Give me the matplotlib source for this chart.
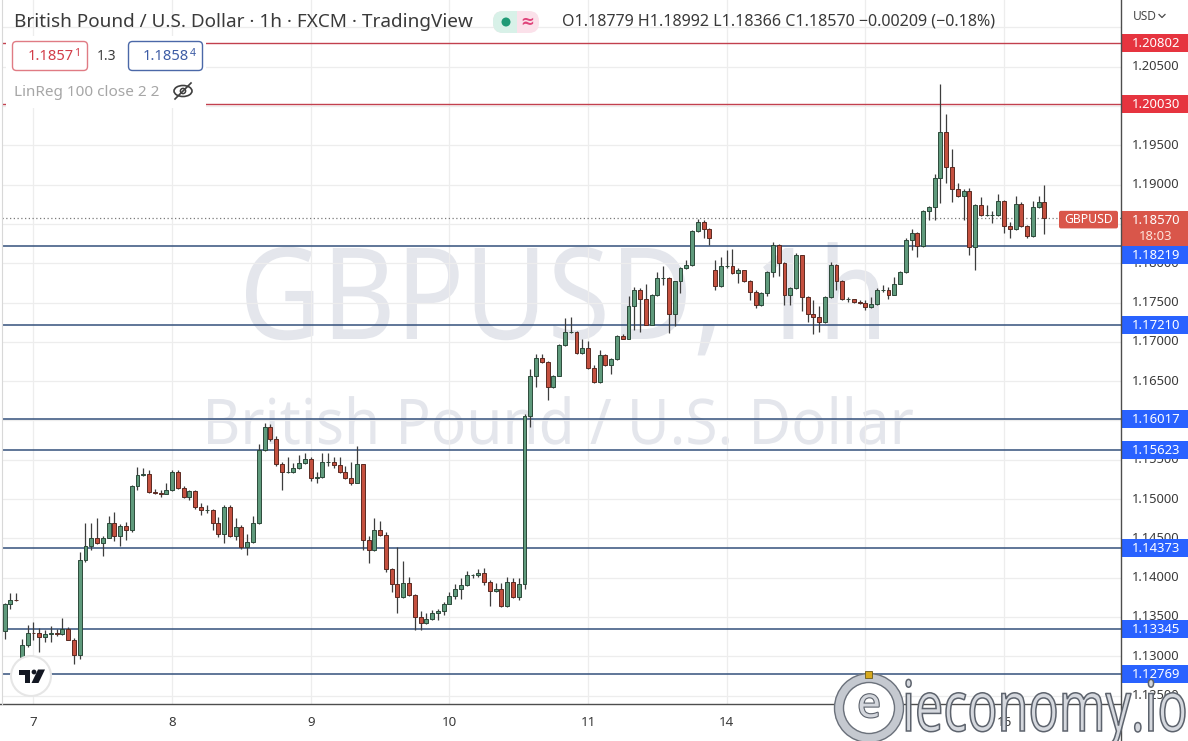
import matplotlib
matplotlib.use('Agg')
import matplotlib.pyplot as plt
import matplotlib.transforms as mtransforms
import matplotlib.patheffects as pe
from matplotlib.patches import Rectangle, FancyBboxPatch, Circle, PathPatch, Polygon, Ellipse
from matplotlib.textpath import TextPath
from matplotlib.font_manager import FontProperties
import numpy as np

plt.rcParams['font.family'] = ['Noto Sans', 'DejaVu Sans']

# GBPUSD 1h candles (Nov 4 late -> Nov 16 07:00)
opens = [
    1.1332, 1.1366, 1.1372, 1.1299, 1.1314, 1.1330, 1.1329, 1.1324, 1.1328, 1.1329,
    1.1328, 1.1334, 1.1321, 1.1301, 1.1422, 1.1440, 1.1451, 1.1444, 1.1451, 1.1469,
    1.1453, 1.1466, 1.1460, 1.1517, 1.1531, 1.1532, 1.1509, 1.1508, 1.1507, 1.1511,
    1.1534, 1.1514, 1.1502, 1.1510, 1.1490, 1.1486, 1.1486, 1.1469, 1.1455, 1.1490,
    1.1453, 1.1464, 1.1439, 1.1445, 1.1469, 1.1563, 1.1592, 1.1576, 1.1544, 1.1534,
    1.1535, 1.1539, 1.1546, 1.1551, 1.1527, 1.1528, 1.1547, 1.1547, 1.1543, 1.1534,
    1.1527, 1.1521, 1.1544, 1.1448, 1.1435, 1.1461, 1.1454, 1.1411, 1.1392, 1.1375,
    1.1393, 1.1378, 1.1350, 1.1342, 1.1347, 1.1355, 1.1357, 1.1367, 1.1376, 1.1386,
    1.1391, 1.1403, 1.1403, 1.1406, 1.1395, 1.1383, 1.1386, 1.1364, 1.1395, 1.1375,
    1.1392, 1.1606, 1.1657, 1.1679, 1.1674, 1.1643, 1.1657, 1.1696, 1.1712, 1.1712,
    1.1686, 1.1692, 1.1667, 1.1649, 1.1683, 1.1670, 1.1678, 1.1708, 1.1704, 1.1745,
    1.1766, 1.1754, 1.1722, 1.1760, 1.1781, 1.1781, 1.1735, 1.1777, 1.1794, 1.1798,
    1.1841, 1.1852, 1.1844, 1.1791, 1.1771, 1.1796, 1.1796, 1.1787, 1.1791, 1.1777,
    1.1764, 1.1747, 1.1762, 1.1789, 1.1823, 1.1800, 1.1760, 1.1768, 1.1810, 1.1757,
    1.1735, 1.1731, 1.1725, 1.1757, 1.1798, 1.1778, 1.1754, 1.1754, 1.1751, 1.1750,
    1.1744, 1.1748, 1.1766, 1.1766, 1.1760, 1.1774, 1.1789, 1.1830, 1.1838, 1.1822,
    1.1866, 1.1871, 1.1909, 1.1967, 1.1922, 1.1895, 1.1886, 1.1892, 1.1821, 1.1874,
    1.1861, 1.1861, 1.1861, 1.1879, 1.1847, 1.1843, 1.1875, 1.1847, 1.1835, 1.1871,
    1.18779,
]
highs = [
    1.1368, 1.1380, 1.1380, 1.1322, 1.1340, 1.1344, 1.1336, 1.1333, 1.1338, 1.1335,
    1.1349, 1.1337, 1.1323, 1.1433, 1.1470, 1.1470, 1.1476, 1.1453, 1.1478, 1.1484,
    1.1468, 1.1471, 1.1518, 1.1541, 1.1540, 1.1537, 1.1513, 1.1511, 1.1521, 1.1537,
    1.1537, 1.1517, 1.1511, 1.1511, 1.1495, 1.1492, 1.1487, 1.1477, 1.1492, 1.1492,
    1.1476, 1.1467, 1.1455, 1.1478, 1.1570, 1.1597, 1.1595, 1.1580, 1.1547, 1.1554,
    1.1546, 1.1556, 1.1558, 1.1553, 1.1535, 1.1559, 1.1558, 1.1554, 1.1554, 1.1542,
    1.1547, 1.1567, 1.1545, 1.1453, 1.1476, 1.1472, 1.1458, 1.1412, 1.1439, 1.1421,
    1.1401, 1.1379, 1.1357, 1.1355, 1.1359, 1.1360, 1.1369, 1.1382, 1.1392, 1.1399,
    1.1409, 1.1405, 1.1411, 1.1412, 1.1397, 1.1393, 1.1393, 1.1401, 1.1400, 1.1400,
    1.1608, 1.1666, 1.1685, 1.1684, 1.1675, 1.1658, 1.1697, 1.1730, 1.1731, 1.1714,
    1.1703, 1.1701, 1.1670, 1.1690, 1.1684, 1.1680, 1.1709, 1.1710, 1.1758, 1.1770,
    1.1769, 1.1774, 1.1761, 1.1789, 1.1796, 1.1783, 1.1778, 1.1795, 1.1804, 1.1842,
    1.1856, 1.1855, 1.1845, 1.1804, 1.1808, 1.1817, 1.1818, 1.1794, 1.1792, 1.1779,
    1.1766, 1.1763, 1.1790, 1.1827, 1.1824, 1.1802, 1.1770, 1.1813, 1.1811, 1.1758,
    1.1753, 1.1745, 1.1758, 1.1802, 1.1799, 1.1779, 1.1757, 1.1755, 1.1753, 1.1753,
    1.1757, 1.1768, 1.1772, 1.1770, 1.1783, 1.1790, 1.1832, 1.1844, 1.1840, 1.1868,
    1.1873, 1.1913, 1.2028, 1.1990, 1.1945, 1.1902, 1.1894, 1.1896, 1.1875, 1.1884,
    1.1874, 1.1866, 1.1888, 1.1880, 1.1852, 1.1885, 1.1878, 1.1849, 1.1879, 1.1885,
    1.18992,
]
lows = [
    1.1322, 1.1360, 1.1370, 1.1296, 1.1312, 1.1321, 1.1305, 1.1318, 1.1318, 1.1326,
    1.1327, 1.1320, 1.1290, 1.1296, 1.1420, 1.1435, 1.1443, 1.1427, 1.1450, 1.1446,
    1.1440, 1.1448, 1.1458, 1.1511, 1.1529, 1.1508, 1.1506, 1.1502, 1.1506, 1.1510,
    1.1513, 1.1501, 1.1499, 1.1487, 1.1480, 1.1482, 1.1461, 1.1452, 1.1444, 1.1452,
    1.1448, 1.1437, 1.1429, 1.1444, 1.1468, 1.1561, 1.1574, 1.1542, 1.1511, 1.1533,
    1.1533, 1.1538, 1.1545, 1.1523, 1.1521, 1.1527, 1.1542, 1.1540, 1.1533, 1.1526,
    1.1518, 1.1520, 1.1435, 1.1418, 1.1434, 1.1453, 1.1407, 1.1382, 1.1355, 1.1374,
    1.1376, 1.1333, 1.1333, 1.1341, 1.1346, 1.1346, 1.1352, 1.1366, 1.1373, 1.1373,
    1.1389, 1.1400, 1.1401, 1.1391, 1.1364, 1.1382, 1.1363, 1.1363, 1.1374, 1.1372,
    1.1386, 1.1592, 1.1643, 1.1673, 1.1626, 1.1641, 1.1656, 1.1695, 1.1711, 1.1685,
    1.1685, 1.1666, 1.1647, 1.1648, 1.1669, 1.1659, 1.1677, 1.1703, 1.1703, 1.1715,
    1.1712, 1.1721, 1.1721, 1.1758, 1.1772, 1.1711, 1.1720, 1.1762, 1.1793, 1.1796,
    1.1840, 1.1832, 1.1823, 1.1766, 1.1770, 1.1794, 1.1786, 1.1775, 1.1776, 1.1753,
    1.1743, 1.1746, 1.1758, 1.1783, 1.1784, 1.1747, 1.1747, 1.1767, 1.1739, 1.1725,
    1.1710, 1.1712, 1.1724, 1.1756, 1.1766, 1.1753, 1.1751, 1.1749, 1.1748, 1.1741,
    1.1743, 1.1747, 1.1763, 1.1754, 1.1759, 1.1773, 1.1788, 1.1817, 1.1808, 1.1821,
    1.1855, 1.1855, 1.1876, 1.1902, 1.1878, 1.1884, 1.1855, 1.1810, 1.1791, 1.1860,
    1.1860, 1.1851, 1.1860, 1.1838, 1.1832, 1.1842, 1.1846, 1.1832, 1.1834, 1.1870,
    1.18366,
]
closes = [
    1.1366, 1.1372, 1.1371, 1.1314, 1.1330, 1.1329, 1.1324, 1.1328, 1.1329, 1.1328,
    1.1334, 1.1321, 1.1301, 1.1422, 1.1440, 1.1451, 1.1444, 1.1451, 1.1469, 1.1453,
    1.1466, 1.1460, 1.1517, 1.1531, 1.1532, 1.1509, 1.1508, 1.1507, 1.1511, 1.1534,
    1.1514, 1.1502, 1.1510, 1.1490, 1.1486, 1.1486, 1.1469, 1.1455, 1.1490, 1.1453,
    1.1464, 1.1439, 1.1445, 1.1469, 1.1563, 1.1592, 1.1576, 1.1544, 1.1534, 1.1535,
    1.1539, 1.1546, 1.1551, 1.1527, 1.1528, 1.1547, 1.1547, 1.1543, 1.1534, 1.1527,
    1.1521, 1.1544, 1.1448, 1.1435, 1.1461, 1.1454, 1.1411, 1.1392, 1.1375, 1.1393,
    1.1378, 1.1350, 1.1342, 1.1347, 1.1355, 1.1357, 1.1367, 1.1376, 1.1386, 1.1391,
    1.1403, 1.1403, 1.1406, 1.1395, 1.1383, 1.1386, 1.1364, 1.1395, 1.1375, 1.1392,
    1.1606, 1.1657, 1.1679, 1.1674, 1.1643, 1.1657, 1.1696, 1.1712, 1.1712, 1.1686,
    1.1692, 1.1667, 1.1649, 1.1683, 1.1670, 1.1678, 1.1708, 1.1704, 1.1745, 1.1766,
    1.1754, 1.1722, 1.1760, 1.1781, 1.1781, 1.1735, 1.1777, 1.1794, 1.1798, 1.1841,
    1.1852, 1.1844, 1.1832, 1.1771, 1.1796, 1.1796, 1.1787, 1.1791, 1.1777, 1.1764,
    1.1747, 1.1762, 1.1789, 1.1823, 1.1800, 1.1760, 1.1768, 1.1810, 1.1757, 1.1735,
    1.1731, 1.1725, 1.1757, 1.1798, 1.1778, 1.1754, 1.1754, 1.1751, 1.1750, 1.1744,
    1.1748, 1.1766, 1.1766, 1.1760, 1.1774, 1.1789, 1.1830, 1.1838, 1.1822, 1.1866,
    1.1871, 1.1909, 1.1967, 1.1922, 1.1895, 1.1886, 1.1892, 1.1821, 1.1874, 1.1861,
    1.1861, 1.1861, 1.1879, 1.1847, 1.1843, 1.1875, 1.1847, 1.1835, 1.1871, 1.1878,
    1.18570,
]

# bar index of the first hourly bar of each day (the "15" label sits under the logo)
day_bars = [5, 29, 53, 77, 101, 125, 149, 173]
day_labels = ['7', '8', '9', '10', '11', '14', '', '16']

price_ticks = [1.125, 1.130, 1.135, 1.140, 1.145, 1.150, 1.155, 1.160, 1.165,
               1.170, 1.175, 1.180, 1.185, 1.190, 1.195, 1.200, 1.205, 1.210]
resistance = [1.20802, 1.20030]
support = [1.18219, 1.17210, 1.16017, 1.15623, 1.14373, 1.13345, 1.12769]
last_price = 1.18570

GREEN = '#5f9a7c'
RED = '#c4503f'
W, H = 1188, 741
YMIN, YMAX = 1.12392, 1.21349

fig = plt.figure(figsize=(W / 100, H / 100), dpi=100)
fig.patch.set_facecolor('white')

back = fig.add_axes([0, 0, 1, 1], zorder=0)
back.set_xlim(0, W)
back.set_ylim(H, 0)
back.axis('off')

ax = fig.add_axes([2 / W, 1 - 704 / H, 1118.7 / W, 704 / H], zorder=1)
ax.patch.set_visible(False)
for s in ax.spines.values():
    s.set_visible(False)
ax.set_xticks([])
ax.set_yticks([])

front = fig.add_axes([0, 0, 1, 1], zorder=2)
front.set_xlim(0, W)
front.set_ylim(H, 0)
front.axis('off')

ppx = (YMAX - YMIN) / 704  # price per pixel
ty = mtransforms.blended_transform_factory(front.transData, ax.transData)
tx = mtransforms.blended_transform_factory(ax.transData, front.transData)


def block_text(axes, s, x0, x1, base, cap, color, z=0, ec='none', lw=0):
    fp = FontProperties(family='Noto Sans')
    tp = TextPath((0, 0), s, size=100, prop=fp)
    e = tp.get_extents()
    hcap = TextPath((0, 0), 'H', size=100, prop=fp).get_extents().height
    tr = (mtransforms.Affine2D().translate(-e.x0, 0)
          .scale((x1 - x0) / e.width, -cap / hcap).translate(x0, base))
    axes.add_patch(PathPatch(tr.transform_path(tp), fc=color, ec=ec, lw=lw, zorder=z))


def fit(t, width):
    r = fig.canvas.get_renderer()
    w = t.get_window_extent(r).width
    t.set_fontsize(t.get_fontsize() * width / w)


# symbol watermark
block_text(back, 'GBPUSD, 1h', 246, 879, 339, 91, '#e4e6ec')
block_text(back, 'British Pound / U.S. Dollar', 208, 913, 444, 45, '#e4e6ec')

# grid
ax.hlines(price_ticks, -2, 200, color='#ededed', lw=0.9, zorder=0)
ax.vlines(day_bars, 1.10, 1.25, color='#ededed', lw=0.9, zorder=0)

# horizontal levels
for lv in resistance:
    ax.axhline(lv, color='#c2404e', lw=1.0, zorder=1)
for lv in support:
    ax.axhline(lv, color='#34517c', lw=1.1, zorder=1)
ax.axhline(last_price, color='#7a7a7a', lw=0.9, ls=(0, (1, 2)), zorder=1)

# candles
o = np.array(opens)
h = np.array(highs)
l = np.array(lows)
c = np.array(closes)
x = np.arange(len(o))
up = c >= o
ax.vlines(x, l, h, color='#3d3d3d', lw=0.9, zorder=3)
ax.bar(x, np.maximum(np.abs(c - o), 0.00004), bottom=np.minimum(o, c), width=0.68,
       color=np.where(up, GREEN, RED), edgecolor=np.where(up, '#2c4a3a', '#5a2a22'),
       linewidth=0.7, zorder=4)
ax.set_xlim(-0.45, 193.2)
ax.set_ylim(YMIN, YMAX)

# frame lines
front.plot([1120.7, 1120.7], [0, H], color='#4d4d4d', lw=1.0, zorder=5)
front.plot([0, 1120.7], [704, 704], color='#4d4d4d', lw=1.0, zorder=5)
front.plot([1.5, 1.5], [0, 704], color='#d8d8d8', lw=0.8, zorder=5)

# price scale: tick labels that sit fully behind a level label are not drawn
price_bottom = last_price - 27.3 * ppx
price_top = last_price + 7.7 * ppx
for p in price_ticks:
    behind = any(abs(p - lv) < 6 * ppx for lv in resistance + support)
    behind = behind or (price_bottom + 5 * ppx < p < price_top - 5 * ppx)
    if behind:
        continue
    front.text(1156, p, f'{p:.5f}', transform=ty, ha='center', va='center',
               fontsize=9.3, color='#3a3a3a', zorder=1)
front.add_patch(Rectangle((1121.5, 0), 67, 31, fc='white', ec='none', zorder=2))
front.text(1133, 16, 'USD', ha='left', va='center', fontsize=8.6, color='#4a4a4a', zorder=3)
front.plot([1159, 1162, 1165], [14.5, 17.5, 14.5], color='#4a4a4a', lw=0.9, zorder=3)

for lv in resistance + support:
    col = '#e6343f' if lv in resistance else '#2962ff'
    top = min(lv + 9 * ppx, price_bottom) if lv < last_price else lv + 9 * ppx
    front.add_patch(Rectangle((1121.5, top - 18 * ppx), 67, 18 * ppx, transform=ty,
                              fc=col, ec='none', zorder=3))
    front.text(1156, top - 9.5 * ppx, f'{lv:.5f}', transform=ty, ha='center', va='center',
               fontsize=9.4, color='white', weight='bold', zorder=4)

front.add_patch(Rectangle((1121.5, price_bottom), 67, 35 * ppx, transform=ty,
                          fc='#d9564a', ec='none', zorder=3))
front.text(1156, last_price - 1.6 * ppx, f'{last_price:.5f}', transform=ty, ha='center',
           va='center', fontsize=9.4, color='white', weight='bold', zorder=4)
front.text(1156, last_price - 17.6 * ppx, '18:03', transform=ty, ha='center',
           va='center', fontsize=9.4, color='#fde3da', zorder=4)
front.add_patch(FancyBboxPatch((1059, last_price - 10 * ppx), 59, 17.6 * ppx, transform=ty,
                               boxstyle='round,pad=0,rounding_size=2', fc='#d9564a',
                               ec='none', zorder=3, mutation_aspect=ppx))
front.text(1088.5, last_price - 1.4 * ppx, 'GBPUSD', transform=ty, ha='center',
           va='center', fontsize=8.8, color='white', weight='bold', zorder=4)

# time scale
for b, lab in zip(day_bars, day_labels):
    if lab:
        front.text(b, 722, lab, transform=tx, ha='center', va='center', fontsize=9.6,
                   color='#3a3a3a', zorder=1)

# legend block
t = front.text(14, 22, 'British Pound / U.S. Dollar · 1h · FXCM · TradingView',
               fontsize=12.5, color='#3a3a3a', va='center', ha='left', zorder=4)
fit(t, 457)
front.add_patch(FancyBboxPatch((493, 11), 46, 22, boxstyle='round,pad=0,rounding_size=10',
                               fc='#fbe1ea', ec='none', zorder=3))
front.add_patch(FancyBboxPatch((493, 11), 24, 22, boxstyle='round,pad=0,rounding_size=10',
                               fc='#d8f1e8', ec='none', zorder=3))
front.add_patch(Rectangle((510, 11), 7, 22, fc='#d8f1e8', ec='none', zorder=3))
front.add_patch(Circle((506, 22), 4.5, fc='#1f9a76', ec='none', zorder=4))
front.text(527, 22, '≈', ha='center', va='center', fontsize=12, color='#e0457b',
           weight='bold', zorder=4, family=['DejaVu Sans'])
t2 = front.text(562, 22, 'O1.18779 H1.18992 L1.18366 C1.18570 −0.00209 (−0.18%)',
                fontsize=10.5, color='#3a3a3a', va='center', ha='left', zorder=4)
fit(t2, 434)

front.add_patch(Rectangle((6, 36), 200, 72, fc='white', ec='none', zorder=2))
front.add_patch(FancyBboxPatch((12.5, 41.5), 75, 29, boxstyle='round,pad=0,rounding_size=4',
                               fc='white', ec='#e07b84', lw=1.0, zorder=3))
front.text(73.5, 57, '1.1857', ha='right', va='center', fontsize=10.6, color='#d23c48', zorder=4)
front.text(74.5, 53, '1', ha='left', va='center', fontsize=7.5, color='#d23c48', zorder=4)
front.text(107, 56, '1.3', ha='center', va='center', fontsize=10, color='#3a3a3a', zorder=4)
front.add_patch(FancyBboxPatch((128.5, 41.5), 74, 29, boxstyle='round,pad=0,rounding_size=4',
                               fc='white', ec='#4b68a8', lw=1.0, zorder=3))
front.text(188.5, 57, '1.1858', ha='right', va='center', fontsize=10.6, color='#3d5ca5', zorder=4)
front.text(189.5, 53, '4', ha='left', va='center', fontsize=7.5, color='#3d5ca5', zorder=4)
t3 = front.text(14, 92, 'LinReg 100 close 2 2', fontsize=10.5, color='#a6a6a6',
                va='center', ha='left', zorder=4)
fit(t3, 145)
front.add_patch(Ellipse((183, 91), 18, 11, fc='none', ec='#3f3f3f', lw=1.2, zorder=4))
front.add_patch(Circle((183, 91), 2.6, fc='none', ec='#3f3f3f', lw=1.1, zorder=4))
front.plot([175, 191], [99, 83], color='#3f3f3f', lw=1.2, zorder=4)

# TradingView badge
front.add_patch(Circle((31, 676), 20, fc='white', ec='#e6e6e6', lw=1.5, zorder=4))
front.add_patch(Polygon([(18.5, 669.5), (30, 669.5), (30, 683), (25, 683), (25, 674.5), (18.5, 674.5)],
                        fc='#131722', ec='none', zorder=5))
front.add_patch(Circle((34, 672), 2.4, fc='#131722', ec='none', zorder=5))
front.add_patch(Polygon([(38, 669.5), (45, 669.5), (38.5, 683), (31.5, 683)],
                        fc='#131722', ec='none', zorder=5))

# ieconomy.io watermark
front.add_patch(Circle((869, 708), 30, fc='white', ec='#c5c9d0', lw=7, zorder=8))
front.add_patch(Circle((869, 708), 34.5, fc='none', ec='#6b717b', lw=1.0, zorder=9))
front.add_patch(Circle((869, 708), 25.5, fc='none', ec='#6b717b', lw=1.0, zorder=9))
front.text(869, 706, 'e', ha='center', va='center', fontsize=30, weight='bold',
           color='#d3d6dc', zorder=9,
           path_effects=[pe.withStroke(linewidth=1.6, foreground='#5d636d')])
front.add_patch(Rectangle((865, 671), 7, 7, fc='#d7a91e', ec='#6b5a1a', lw=0.6, zorder=10))
block_text(front, 'ieconomy.io', 906, 1185, 731, 50, '#d5d8de', z=9, ec='#5d636d', lw=1.1)

fig.savefig('out.png', dpi=100, facecolor='white')
plt.close(fig)
